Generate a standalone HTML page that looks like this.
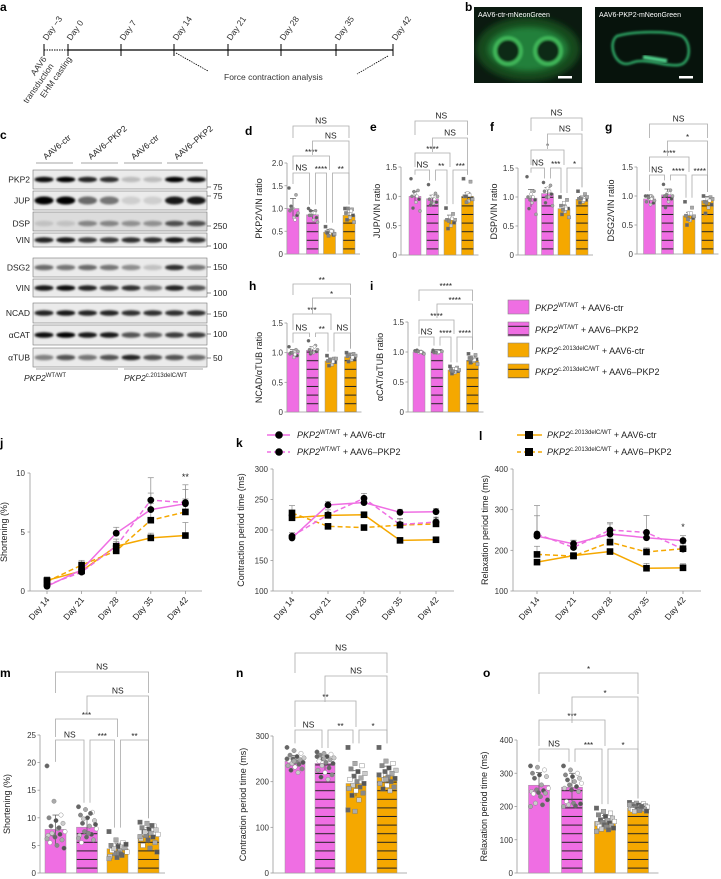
<!DOCTYPE html>
<html><head><meta charset="utf-8">
<style>
html,body{margin:0;padding:0;background:#fff;}
svg{display:block;font-family:"Liberation Sans",sans-serif;}
.t{font-size:8px;fill:#333;}
.pl{font-size:12px;font-weight:bold;fill:#000;}
</style></head>
<body>
<svg id="fig" width="721" height="879" viewBox="0 0 721 879" xmlns="http://www.w3.org/2000/svg">
<defs>
<pattern id="stripePink" patternUnits="userSpaceOnUse" width="10" height="8.6"><rect width="10" height="8.6" fill="#ef6ee3"/><rect y="7.6" width="10" height="1.2" fill="#222"/></pattern>
<pattern id="stripeOrange" patternUnits="userSpaceOnUse" width="10" height="8.6"><rect width="10" height="8.6" fill="#f5a800"/><rect y="7.6" width="10" height="1.2" fill="#222"/></pattern>
<filter id="blur1" x="-50%" y="-50%" width="200%" height="200%"><feGaussianBlur stdDeviation="1.1"/></filter>
<filter id="blur3" x="-50%" y="-50%" width="200%" height="200%"><feGaussianBlur stdDeviation="3"/></filter>
</defs>

<g>
<text class="pl" x="0" y="11">a</text>
<line x1="44" y1="50" x2="68" y2="50" stroke="#000" stroke-width="1" stroke-dasharray="1.5,1"/>
<line x1="68" y1="50" x2="393" y2="50" stroke="#000" stroke-width="1.2"/>
<g stroke="#000" stroke-width="1">
<line x1="44" y1="44" x2="44" y2="56"/><line x1="68" y1="44" x2="68" y2="56"/><line x1="121" y1="44" x2="121" y2="56"/><line x1="174" y1="44" x2="174" y2="56"/><line x1="228" y1="44" x2="228" y2="56"/><line x1="281" y1="44" x2="281" y2="56"/><line x1="336" y1="44" x2="336" y2="56"/><line x1="393" y1="44" x2="393" y2="56"/>
</g>
<g class="t">
<text transform="translate(47,41) rotate(-55)" style="font-size:8.5px">Day −3</text>
<text transform="translate(71,41) rotate(-55)" style="font-size:8.5px">Day 0</text>
<text transform="translate(124,41) rotate(-55)" style="font-size:8.5px">Day 7</text>
<text transform="translate(177,41) rotate(-55)" style="font-size:8.5px">Day 14</text>
<text transform="translate(231,41) rotate(-55)" style="font-size:8.5px">Day 21</text>
<text transform="translate(284,41) rotate(-55)" style="font-size:8.5px">Day 28</text>
<text transform="translate(339,41) rotate(-55)" style="font-size:8.5px">Day 35</text>
<text transform="translate(396,41) rotate(-55)" style="font-size:8.5px">Day 42</text>
<text transform="translate(47,59) rotate(-55)" text-anchor="end" style="font-size:8.5px">AAV6</text>
<text transform="translate(54,66) rotate(-55)" text-anchor="end" style="font-size:8.5px">transduction</text>
<text transform="translate(72,59) rotate(-55)" text-anchor="end" style="font-size:8.5px">EHM casting</text>
<text x="224" y="80" style="font-size:8.5px">Force contraction analysis</text>
</g>
<line x1="176" y1="53" x2="208" y2="71" stroke="#000" stroke-width="0.8" stroke-dasharray="1.5,1"/>
<line x1="388" y1="56" x2="357" y2="74" stroke="#000" stroke-width="0.8" stroke-dasharray="1.5,1"/>
</g>

<g>
<text class="pl" x="465" y="11">b</text>
<svg x="474" y="7" width="108" height="76">
<rect width="108" height="76" fill="#0b1a10"/>
<ellipse cx="54" cy="42" rx="52" ry="32" fill="#124a1f" filter="url(#blur3)"/>
<ellipse cx="54" cy="42" rx="40" ry="22" fill="#23803a" filter="url(#blur3)"/>
<circle cx="34" cy="44" r="13" fill="#0d2a14" stroke="#40b558" stroke-width="4" filter="url(#blur1)"/>
<circle cx="74" cy="44" r="13" fill="#0d2a14" stroke="#40b558" stroke-width="4" filter="url(#blur1)"/>
<text x="4" y="10" fill="#fff" style="font-size:7px">AAV6-ctr-mNeonGreen</text>
<rect x="84" y="69" width="14" height="2.5" fill="#fff"/>
</svg>
<svg x="595" y="7" width="108" height="76">
<rect width="108" height="76" fill="#07130c"/>
<path d="M22,29 C40,24 70,24 84,28 C96,30 98,56 84,58 C70,60 50,50 36,56 C20,62 12,36 22,29 Z" fill="none" stroke="#2fa866" stroke-width="2.5" filter="url(#blur1)"/>
<path d="M40,28 L80,28" stroke="#4fcf8a" stroke-width="3" filter="url(#blur1)"/>
<path d="M48,50 L72,54" stroke="#4fcf8a" stroke-width="4" filter="url(#blur1)"/>
<text x="4" y="10" fill="#fff" style="font-size:7px">AAV6-PKP2-mNeonGreen</text>
<rect x="84" y="69" width="14" height="2.5" fill="#fff"/>
</svg>
</g>

<g id="blots">
<text class="pl" x="0" y="139">c</text>
</g>

<g>
<rect x="508" y="300" width="21" height="14" fill="#ef6ee3" stroke="#888" stroke-width="0.6"/>
<rect x="508" y="322" width="21" height="14" fill="url(#stripePink)" stroke="#888" stroke-width="0.6"/>
<rect x="508" y="343" width="21" height="14" fill="#f5a800" stroke="#888" stroke-width="0.6"/>
<rect x="508" y="364" width="21" height="14" fill="url(#stripeOrange)" stroke="#888" stroke-width="0.6"/>
<g style="font-size:9px" fill="#222">
<text x="535" y="311"><tspan font-style="italic">PKP2</tspan><tspan dy="-4" style="font-size:6px">WT/WT</tspan><tspan dy="4"> + AAV6-ctr</tspan></text>
<text x="535" y="333"><tspan font-style="italic">PKP2</tspan><tspan dy="-4" style="font-size:6px">WT/WT</tspan><tspan dy="4"> + AAV6–PKP2</tspan></text>
<text x="535" y="354"><tspan font-style="italic">PKP2</tspan><tspan dy="-4" style="font-size:6px">c.2013delC/WT</tspan><tspan dy="4"> + AAV6-ctr</tspan></text>
<text x="535" y="375"><tspan font-style="italic">PKP2</tspan><tspan dy="-4" style="font-size:6px">c.2013delC/WT</tspan><tspan dy="4"> + AAV6–PKP2</tspan></text>
</g>
</g>

<g>
<line x1="267" y1="435" x2="290" y2="435" stroke="#ef6ee3" stroke-width="1.5"/><circle cx="279" cy="435" r="3.8" fill="#000"/>
<line x1="267" y1="452" x2="290" y2="452" stroke="#ef6ee3" stroke-width="1.5" stroke-dasharray="4,3"/><circle cx="279" cy="452" r="3.8" fill="#000"/>
<text x="297" y="438" style="font-size:9px" fill="#222"><tspan font-style="italic">PKP2</tspan><tspan dy="-4" style="font-size:6px">WT/WT</tspan><tspan dy="4"> + AAV6-ctr</tspan></text>
<text x="297" y="455" style="font-size:9px" fill="#222"><tspan font-style="italic">PKP2</tspan><tspan dy="-4" style="font-size:6px">WT/WT</tspan><tspan dy="4"> + AAV6–PKP2</tspan></text>
</g>
<g>
<line x1="517" y1="435" x2="542" y2="435" stroke="#f5a800" stroke-width="1.5"/><rect x="525" y="431" width="8" height="8" fill="#000"/>
<line x1="517" y1="452" x2="542" y2="452" stroke="#f5a800" stroke-width="1.5" stroke-dasharray="4,3"/><rect x="525" y="448" width="8" height="8" fill="#000"/>
<text x="547" y="438" style="font-size:9px" fill="#222"><tspan font-style="italic">PKP2</tspan><tspan dy="-4" style="font-size:6px">c.2013delC/WT</tspan><tspan dy="4"> + AAV6-ctr</tspan></text>
<text x="547" y="455" style="font-size:9px" fill="#222"><tspan font-style="italic">PKP2</tspan><tspan dy="-4" style="font-size:6px">c.2013delC/WT</tspan><tspan dy="4"> + AAV6–PKP2</tspan></text>
</g>

<g>
<text x="245" y="135" class="pl">d</text><text x="370" y="131" class="pl">e</text><text x="490" y="131" class="pl">f</text><text x="605" y="131" class="pl">g</text>
<text x="249" y="290" class="pl">h</text><text x="370" y="290" class="pl">i</text>
<text x="0" y="447" class="pl">j</text><text x="236" y="447" class="pl">k</text><text x="479" y="440" class="pl">l</text>
<text x="0" y="677" class="pl">m</text><text x="236" y="677" class="pl">n</text><text x="483" y="677" class="pl">o</text>
</g>
</svg>

<script>
const NS='http://www.w3.org/2000/svg';
const svg=document.getElementById('fig');
function mk(tag,attrs,parent,text){const e=document.createElementNS(NS,tag);for(const k in attrs)e.setAttribute(k,attrs[k]);if(text!==undefined)e.textContent=text;(parent||svg).appendChild(e);return e;}

/* ---------- Blots ---------- */
const blotRows=['PKP2','JUP','DSP','VIN','DSG2','VIN','NCAD','αCAT','αTUB'];
const blotTop=[170,191,212,233,258,279,303,325,348];
const blotBot=[189,210,231,247,277,297,323,345,367];
const blotMW=['75','75','250','100','150','100','150','100','50'];
const blotMWy=[190,199,229,249,270,296,317,337,361];
const blotInt=[[.95,1,.85,.8,.2,.2,1,.95],[1,1,.55,.5,.12,.12,.9,.9],[.12,.12,.4,.4,.35,.35,.65,.65],[.85,.9,.75,.75,.8,.8,.9,.8],[.55,.5,.55,.5,.4,.18,.8,.5],[.9,.95,.85,.75,.8,.5,.85,.65],[.85,.9,.85,.85,.8,.8,.8,.8],[.95,1,.9,.9,.65,.6,.75,.75],[.45,.65,.5,.65,.85,.65,.65,.55]];
const blotG=document.getElementById('blots');
blotRows.forEach((name,r)=>{
  const bx=mk('rect',{x:33,y:blotTop[r],width:174,height:blotBot[r]-blotTop[r],fill:r===2?'#dcdcdc':'#ebebeb',stroke:'#777','stroke-width':0.6},blotG);
  
  
  const cy=(blotTop[r]+blotBot[r])/2+(r===2?2:0);
  blotInt[r].forEach((v,i)=>{
    const b=mk('ellipse',{cx:44+21.75*i,cy:cy,rx:9.5,ry:r===1?4:2.8,fill:'#000','fill-opacity':v,filter:'url(#blur1)'},blotG);
    
    
  });
  mk('text',{x:30,y:cy+3,'text-anchor':'end',style:'font-size:8.5px',fill:'#222'},blotG,name);
  mk('line',{x1:207,y1:blotMWy[r]-3,x2:211,y2:blotMWy[r]-3,stroke:'#444','stroke-width':0.6},blotG);
  mk('text',{x:213,y:blotMWy[r],style:'font-size:8.5px',fill:'#222'},blotG,blotMW[r]);
});
const grpLab=['AAV6-ctr','AAV6–PKP2','AAV6-ctr','AAV6–PKP2'];
[[36,73],[81,118],[124,162],[167,203]].forEach((s,i)=>{
  mk('line',{x1:s[0],y1:163,x2:s[1],y2:163,stroke:'#888','stroke-width':0.8},blotG);
  mk('text',{transform:`translate(${s[0]+10},160) rotate(-40)`,style:'font-size:8.5px',fill:'#222'},blotG,grpLab[i]);
});
mk('line',{x1:36,y1:369,x2:118,y2:369,stroke:'#888','stroke-width':0.8},blotG);
mk('line',{x1:124,y1:369,x2:203,y2:369,stroke:'#888','stroke-width':0.8},blotG);
const g1=mk('text',{x:24,y:381,style:'font-size:8.5px',fill:'#222'},blotG);
mk('tspan',{'font-style':'italic'},g1,'PKP2');mk('tspan',{dy:-4,style:'font-size:6px'},g1,'WT/WT');
const g2=mk('text',{x:124,y:381,style:'font-size:8.5px',fill:'#222'},blotG);
mk('tspan',{'font-style':'italic'},g2,'PKP2');mk('tspan',{dy:-4,style:'font-size:6px'},g2,'c.2013delC/WT');

/* ---------- Bar chart data ---------- */
const groups=['WT+ctr','WT+PKP2','mut+ctr','mut+PKP2'];
const dVals=[1.0,0.86,0.48,0.85], dErr=[0.22,0.1,0.06,0.12];
const eVals=[1.0,0.96,0.6,1.0], eErr=[0.08,0.06,0.08,0.06];
const fVals=[0.98,1.06,0.8,0.96], fErr=[0.15,0.1,0.06,0.05];
const gVals=[0.95,1.02,0.66,0.92], gErr=[0.07,0.1,0.06,0.07];
const hVals=[1.0,1.04,0.86,0.93], hErr=[0.05,0.06,0.05,0.06];
const iVals=[1.0,1.01,0.7,0.86], iErr=[0.03,0.03,0.04,0.06];
const mVals=[7.9,8.3,4.4,6.8], mErr=[2.6,1.8,1.0,1.4];
const nVals=[245,240,196,212], nErr=[12,18,28,22];
const oVals=[264,258,155,195], oErr=[38,42,18,10];
const ratioTicks=[0,0.5,1.0,1.5], ratioLabels=['0','0.5','1.0','1.5'];
const dTicks=[0,0.5,1.0,1.5,2.0], dLabels=['0','0.5','1.0','1.5','2.0'];
const mTicks=[0,5,10,15,20,25], nTicks=[0,100,200,300], oTicks=[0,100,200,300,400];
const dPts=[[1.45,1.3,1.0,0.95,0.85,0.8,1.05,0.9,0.75,1.0],[1.0,0.95,0.9,0.85,0.8,0.75,0.95,0.7,0.9,0.85],[0.6,0.5,0.45,0.48,0.42,0.52,0.46,0.44,0.5,0.4],[1.0,0.98,0.95,0.9,0.85,0.8,0.75,0.7,0.95,1.0]];
const ePts=[[1.3,1.1,1.05,1.0,0.95,0.9,0.8,0.75,1.0,1.08],[1.2,1.05,1.0,0.95,0.9,0.88,0.85,1.0,0.95,0.9],[0.8,0.7,0.65,0.6,0.55,0.5,0.45,0.6,0.62,0.58],[1.3,1.25,1.05,1.0,0.95,0.92,1.0,0.95,1.02,0.9]];
const fPts=[[1.35,1.1,1.05,1.0,0.95,0.9,0.8,0.7,1.0,0.95],[1.25,1.2,1.15,1.1,1.05,1.0,0.9,0.85,1.1,1.0],[1.0,0.95,0.9,0.85,0.8,0.75,0.7,0.65,0.8,0.78],[1.1,1.05,1.0,0.97,0.95,0.92,0.9,1.0,0.95,0.98]];
const gPts=[[1.0,0.98,0.95,0.9,0.88,0.85,1.0,0.92,0.95,0.97],[1.2,1.1,1.05,1.0,0.95,0.9,0.8,1.0,1.05,1.02],[0.9,0.8,0.7,0.66,0.62,0.58,0.5,0.65,0.7,0.6],[1.0,0.98,0.95,0.9,0.85,0.8,0.7,0.95,0.92,0.88]];
const hPts=[[1.1,1.05,1.0,0.98,0.95,0.92,1.0,1.02,0.97,1.0],[1.2,1.12,1.08,1.05,1.02,1.0,0.98,1.05,1.1,1.0],[0.95,0.9,0.88,0.86,0.84,0.8,0.78,0.9,0.85,0.87],[1.0,0.98,0.96,0.94,0.9,0.88,0.85,0.95,0.92,0.97]];
const iPts=[[1.02,1.0,0.99,1.01,0.98,1.0,1.03,0.97,1.0,1.01],[1.03,1.01,1.0,0.99,1.02,0.98,1.0,1.01,1.0,0.99],[0.76,0.74,0.72,0.7,0.68,0.66,0.64,0.7,0.72,0.68],[0.97,0.95,0.92,0.9,0.88,0.85,0.82,0.8,0.87,0.9]];
const mPts=[[19.4,13,10.5,10,9.5,9,8.5,8,7.5,7,7,6.8,6.5,6,5.5,5,4.5,7.2,8.2,6.2],[12,11.5,11,10.5,10,9.5,9,8.5,8,7.5,7,6.8,6.5,6,5.5,7.2,8.8,9.8,10.8,6.3],[7.5,6,5.5,5,4.8,4.5,4.3,4,3.8,3.5,3.2,3,2.8,4.6,4.1,3.6,5.2,4.4,3.4,2.6],[9.2,9,8.5,8.2,8,7.8,7.5,7.2,7,6.8,6.5,6.2,6,5.5,5,4.5,3.8,7.4,8.6,6.6]];
const nPts=[[275,268,262,258,255,252,250,248,246,244,242,240,238,235,232,228,225,220,250,245],[265,262,260,258,255,252,250,248,245,242,240,235,230,225,220,215,210,205,255,250],[275,240,235,228,222,218,212,208,205,200,196,192,188,185,180,175,170,160,138,135],[275,245,240,235,230,225,222,218,214,210,207,204,200,196,192,188,184,180,215,205]];
const oPts=[[322,318,310,300,295,290,285,265,255,250,248,245,242,240,238,230,220,210,205,200],[322,310,300,295,290,285,280,275,270,265,260,255,250,245,215,210,208,205,202,200],[195,185,180,175,170,165,160,158,155,152,150,148,145,142,140,138,135,132,130,125],[212,210,208,206,204,202,200,199,198,196,195,194,193,192,190,188,186,185,200,205]];

const bracketsD=[[0,1,173,'NS'],[1,2,173,'****'],[2,3,173,'**'],[0,2,156,'****'],[1,3,141,'NS'],[0,3,126,'NS']];
const bracketsE=[[0,1,170,'NS'],[1,2,170,'**'],[2,3,170,'***'],[0,2,153,'****'],[1,3,138,'NS'],[0,3,121,'NS']];
const bracketsF=[[0,1,168,'NS'],[1,2,168,'***'],[2,3,168,'*'],[0,2,150,'*'],[1,3,134,'NS'],[0,3,118,'NS']];
const bracketsG=[[0,1,175,'NS'],[1,2,175,'****'],[2,3,175,'****'],[0,2,157,'****'],[1,3,141,'*'],[0,3,124,'NS']];
const bracketsH=[[0,1,333,'NS'],[1,2,333,'**'],[2,3,333,'NS'],[0,2,314,'***'],[1,3,298,'*'],[0,3,284,'**']];
const bracketsI=[[0,1,337,'NS'],[1,2,337,'****'],[2,3,337,'****'],[0,2,320,'****'],[1,3,304,'****'],[0,3,290,'****']];
const bracketsM=[[0,1,740,'NS'],[1,2,740,'***'],[2,3,740,'**'],[0,2,719,'***'],[1,3,696,'NS'],[0,3,672,'NS']];
const bracketsN=[[0,1,730,'NS'],[1,2,730,'**'],[2,3,730,'*'],[0,2,701,'**'],[1,3,676,'NS'],[0,3,653,'NS']];
const bracketsO=[[0,1,749,'NS'],[1,2,749,'***'],[2,3,749,'*'],[0,2,720,'***'],[1,3,697,'*'],[0,3,673,'*']];

const fills=['#ef6ee3','url(#stripePink)','#f5a800','url(#stripeOrange)'];
const shades=['#666','#aaa','#fff','#888','#555','#ccc'];

function barChart(cfg){
  const g=mk('g',{});
  
  
  const max=cfg.ticks[cfg.ticks.length-1];
  const y=v=>cfg.y0-(v/max)*(cfg.y0-cfg.yTop);
  const xEnd=cfg.centers[3]+cfg.w/2+cfg.pad;
  mk('line',{x1:cfg.ax,y1:cfg.yTop,x2:cfg.ax,y2:cfg.y0,stroke:'#999','stroke-width':0.8},g);
  mk('line',{x1:cfg.ax,y1:cfg.y0,x2:xEnd,y2:cfg.y0,stroke:'#999','stroke-width':0.8},g);
  cfg.ticks.forEach((t,k)=>{
    mk('line',{x1:cfg.ax-2.5,y1:y(t),x2:cfg.ax,y2:y(t),stroke:'#999','stroke-width':0.8},g);
    const tl=mk('text',{x:cfg.ax-4,y:y(t)+3,'text-anchor':'end',class:'t'},g,cfg.labels[k]);
    
    
  });
  const yl=mk('text',{transform:`translate(${cfg.lx},${(cfg.y0+cfg.yTop)/2}) rotate(-90)`,'text-anchor':'middle',style:'font-size:9px',fill:'#222'},g,cfg.ylabel);
  
  
  const dataTop=[];
  cfg.vals.forEach((v,i)=>{
    const cx=cfg.centers[i];
    const b=mk('rect',{x:cx-cfg.w/2,y:y(v),width:cfg.w,height:cfg.y0-y(v),fill:fills[i],stroke:'#999','stroke-width':0.5},g);
    
    
    mk('line',{x1:cx,y1:y(v+cfg.err[i]),x2:cx,y2:y(Math.max(0,v-cfg.err[i])),stroke:'#555','stroke-width':0.7},g);
    mk('line',{x1:cx-3,y1:y(v+cfg.err[i]),x2:cx+3,y2:y(v+cfg.err[i]),stroke:'#555','stroke-width':0.7},g);
    dataTop.push(Math.min(y(v+cfg.err[i]),...cfg.pts[i].map(y)));
    cfg.pts[i].forEach((p,k)=>{
      const px=cx+((k*7)%(cfg.w-2))-(cfg.w-2)/2+1;
      const col=shades[k%shades.length];
      let m;
      if(i<2) m=mk('circle',{cx:px,cy:y(p),r:cfg.r,fill:col,stroke:'#777','stroke-width':0.4},g);
      else m=mk('rect',{x:px-cfg.r,y:y(p)-cfg.r,width:cfg.r*2,height:cfg.r*2,fill:col,stroke:'#777','stroke-width':0.4},g);
      
      
    });
  });
  const gap=cfg.brackets[0][2]-cfg.brackets[3][2];
  cfg.brackets.forEach(br=>{
    const [a,b,ly,lab]=br;
    const adj=(b-a===1);
    const xa=cfg.centers[a]+(adj&&a>0?3:0), xb=cfg.centers[b]-(adj&&b<3?3:0);
    let la,lb;
    if(adj){la=Math.max(ly+4,dataTop[a]-4);lb=Math.max(ly+4,dataTop[b]-4);}
    else{
      const step=(b-a===3)?(cfg.brackets[4][2]-cfg.brackets[5][2]):gap;
      la=ly+step-3;
      lb=(b-a===3)?ly+step-3:Math.max(ly+4,dataTop[b]-4);
      if(b-a===2 && b===2) lb=Math.max(ly+4,Math.min(dataTop[b]-4,cfg.brackets[0][2]-3+ (dataTop[b]-cfg.brackets[0][2]>0?0:0)));
    }
    const bg=mk('g',{},g);
    
    
    mk('polyline',{points:`${xa},${la} ${xa},${ly} ${xb},${ly} ${xb},${lb}`,fill:'none',stroke:'#aaa','stroke-width':0.8},bg);
    mk('text',{x:(xa+xb)/2,y:ly-(lab==='NS'?2.5:1),'text-anchor':'middle',style:'font-size:'+(lab==='NS'?8.5:8)+'px',fill:'#222'},bg,lab);
  });
}
barChart({name:'chart-d-pkp2',ax:287,y0:254,yTop:163,ticks:dTicks,labels:dLabels,centers:[293,312.5,329.5,349],w:12,pad:5,vals:dVals,err:dErr,pts:dPts,ylabel:'PKP2/VIN ratio',lx:262,brackets:bracketsD,r:1.6});
barChart({name:'chart-e-jup',ax:401,y0:255,yTop:167,ticks:ratioTicks,labels:ratioLabels,centers:[415,432.5,450,467.5],w:12,pad:5,vals:eVals,err:eErr,pts:ePts,ylabel:'JUP/VIN ratio',lx:380,brackets:bracketsE,r:1.6});
barChart({name:'chart-f-dsp',ax:518,y0:255,yTop:168,ticks:ratioTicks,labels:ratioLabels,centers:[531,547.5,564,582],w:12,pad:5,vals:fVals,err:fErr,pts:fPts,ylabel:'DSP/VIN ratio',lx:497,brackets:bracketsF,r:1.6});
barChart({name:'chart-g-dsg2',ax:637,y0:254,yTop:167,ticks:ratioTicks,labels:ratioLabels,centers:[649.5,667.5,689,707.5],w:12,pad:5,vals:gVals,err:gErr,pts:gPts,ylabel:'DSG2/VIN ratio',lx:614,brackets:bracketsG,r:1.6});
barChart({name:'chart-h-ncad',ax:287,y0:412,yTop:323,ticks:ratioTicks,labels:ratioLabels,centers:[293,312.5,331,350.5],w:12,pad:5,vals:hVals,err:hErr,pts:hPts,ylabel:'NCAD/αTUB ratio',lx:262,brackets:bracketsH,r:1.6});
barChart({name:'chart-i-acat',ax:408,y0:412,yTop:322,ticks:ratioTicks,labels:ratioLabels,centers:[419,437,454,472.5],w:12,pad:5,vals:iVals,err:iErr,pts:iPts,ylabel:'αCAT/αTUB ratio',lx:383,brackets:bracketsI,r:1.6});
barChart({name:'chart-m-shortening',ax:40,y0:873,yTop:735,ticks:mTicks,labels:mTicks.map(String),centers:[55.5,87,117.5,148.5],w:21,pad:6,vals:mVals,err:mErr,pts:mPts,ylabel:'Shortening (%)',lx:10,brackets:bracketsM,r:2.2});
barChart({name:'chart-n-contraction',ax:273,y0:873,yTop:736,ticks:nTicks,labels:nTicks.map(String),centers:[295,325,356,387],w:20,pad:10,vals:nVals,err:nErr,pts:nPts,ylabel:'Contraction period time (ms)',lx:246,brackets:bracketsN,r:2.2});
barChart({name:'chart-o-relaxation',ax:517,y0:873,yTop:740,ticks:oTicks,labels:oTicks.map(String),centers:[539,572,605,638],w:21,pad:10,vals:oVals,err:oErr,pts:oPts,ylabel:'Relaxation period time (ms)',lx:487,brackets:bracketsO,r:2.2});

/* ---------- Line charts ---------- */
const days=['Day 14','Day 21','Day 28','Day 35','Day 42'];
const jWtCtr=[0.4,1.8,4.9,6.9,7.4], jWtPkp=[0.5,1.6,3.8,7.7,7.5], jMutCtr=[0.9,1.7,3.8,4.5,4.7], jMutPkp=[0.8,2.2,3.4,6.0,6.7];
const jErrWtCtr=[0.3,0.4,0.5,1.4,1.6], jErrWtPkp=[0.3,0.4,0.6,1.9,1.1], jErrMutCtr=[0.3,0.3,0.4,0.4,1.1], jErrMutPkp=[0.3,0.4,0.5,1.4,1.1];
const kWtCtr=[187,241,245,229,230], kWtPkp=[190,225,252,209,213], kMutCtr=[220,224,225,183,184], kMutPkp=[228,206,204,208,210];
const kErrWtCtr=[4,6,8,5,5], kErrWtPkp=[6,8,8,10,8], kErrMutCtr=[10,5,4,4,4], kErrMutPkp=[12,4,4,10,8];
const lWtCtr=[235,216,240,231,224], lWtPkp=[240,207,250,244,203], lMutCtr=[171,187,197,156,157], lMutPkp=[190,186,220,196,204];
const lErrWtCtr=[50,8,25,10,12], lErrWtPkp=[70,18,18,42,15], lErrMutCtr=[5,5,5,12,10], lErrMutPkp=[20,5,10,10,12];

function lineChart(cfg){
  const g=mk('g',{});
  
  
  const y=v=>cfg.y0-(v-cfg.min)/(cfg.max-cfg.min)*(cfg.y0-cfg.yTop);
  const x=i=>cfg.x0+i*cfg.dx;
  mk('line',{x1:cfg.ax,y1:cfg.yTop,x2:cfg.ax,y2:cfg.y0,stroke:'#999','stroke-width':0.8},g);
  mk('line',{x1:cfg.ax,y1:cfg.y0,x2:cfg.xEnd,y2:cfg.y0,stroke:'#999','stroke-width':0.8},g);
  cfg.ticks.forEach(t=>{
    mk('line',{x1:cfg.ax-2.5,y1:y(t),x2:cfg.ax,y2:y(t),stroke:'#999','stroke-width':0.8},g);
    mk('text',{x:cfg.ax-5,y:y(t)+3,'text-anchor':'end',class:'t'},g,String(t));
  });
  days.forEach((d,i)=>{
    mk('line',{x1:x(i),y1:cfg.y0,x2:x(i),y2:cfg.y0+3,stroke:'#999','stroke-width':0.8},g);
    const dl=mk('text',{transform:`translate(${x(i)+3},${cfg.y0+9}) rotate(-50)`,'text-anchor':'end',style:'font-size:8.5px',fill:'#222'},g,d);
    
    
  });
  const yl=mk('text',{transform:`translate(${cfg.lx},${(cfg.y0+cfg.yTop)/2}) rotate(-90)`,'text-anchor':'middle',style:'font-size:9px',fill:'#222'},g,cfg.ylabel);
  
  
  cfg.series.forEach(s=>{
    s.vals.forEach((v,i)=>{
      mk('line',{x1:x(i),y1:y(v),x2:x(i),y2:y(v+s.err[i]),stroke:'#888','stroke-width':0.7},g);
      mk('line',{x1:x(i)-3,y1:y(v+s.err[i]),x2:x(i)+3,y2:y(v+s.err[i]),stroke:'#888','stroke-width':0.7},g);
    });
  });
  cfg.series.forEach(s=>{
    const pl=mk('polyline',{points:s.vals.map((v,i)=>x(i)+','+y(v)).join(' '),fill:'none',stroke:s.color,'stroke-width':1.5,'stroke-dasharray':s.dash?'5,3':'none'},g);
    
    
  });
  cfg.series.forEach(s=>{
    s.vals.forEach((v,i)=>{
      let m;
      if(s.shape==='c') m=mk('circle',{cx:x(i),cy:y(v),r:3.4,fill:'#000'},g);
      else m=mk('rect',{x:x(i)-3.3,y:y(v)-3.3,width:6.6,height:6.6,fill:'#000'},g);
      
      
    });
  });
  mk('text',{x:x(4),y:cfg.starY,'text-anchor':'middle',style:'font-size:9px',fill:'#222'},g,cfg.star);
}
lineChart({name:'chart-j-shortening',ax:30,y0:591,yTop:473,min:0,max:10,ticks:[0,5,10],x0:47,dx:34.6,xEnd:202,lx:7,ylabel:'Shortening (%)',star:'**',starY:480,
  series:[{vals:jMutCtr,err:jErrMutCtr,color:'#f5a800',dash:false,shape:'s'},{vals:jMutPkp,err:jErrMutPkp,color:'#f5a800',dash:true,shape:'s'},{vals:jWtCtr,err:jErrWtCtr,color:'#ef6ee3',dash:false,shape:'c'},{vals:jWtPkp,err:jErrWtPkp,color:'#ef6ee3',dash:true,shape:'c'}]});
lineChart({name:'chart-k-contraction',ax:273,y0:591,yTop:469,min:100,max:300,ticks:[100,150,200,250,300],x0:292,dx:36,xEnd:454,lx:244,ylabel:'Contraction period time (ms)',star:'*',starY:523,
  series:[{vals:kMutCtr,err:kErrMutCtr,color:'#f5a800',dash:false,shape:'s'},{vals:kMutPkp,err:kErrMutPkp,color:'#f5a800',dash:true,shape:'s'},{vals:kWtCtr,err:kErrWtCtr,color:'#ef6ee3',dash:false,shape:'c'},{vals:kWtPkp,err:kErrWtPkp,color:'#ef6ee3',dash:true,shape:'c'}]});
lineChart({name:'chart-l-relaxation',ax:513,y0:591,yTop:469,min:100,max:400,ticks:[100,200,300,400],x0:537,dx:36.5,xEnd:701,lx:488,ylabel:'Relaxation period time (ms)',star:'*',starY:530,
  series:[{vals:lMutCtr,err:lErrMutCtr,color:'#f5a800',dash:false,shape:'s'},{vals:lMutPkp,err:lErrMutPkp,color:'#f5a800',dash:true,shape:'s'},{vals:lWtCtr,err:lErrWtCtr,color:'#ef6ee3',dash:false,shape:'c'},{vals:lWtPkp,err:lErrWtPkp,color:'#ef6ee3',dash:true,shape:'c'}]});
</script>
</body></html>
